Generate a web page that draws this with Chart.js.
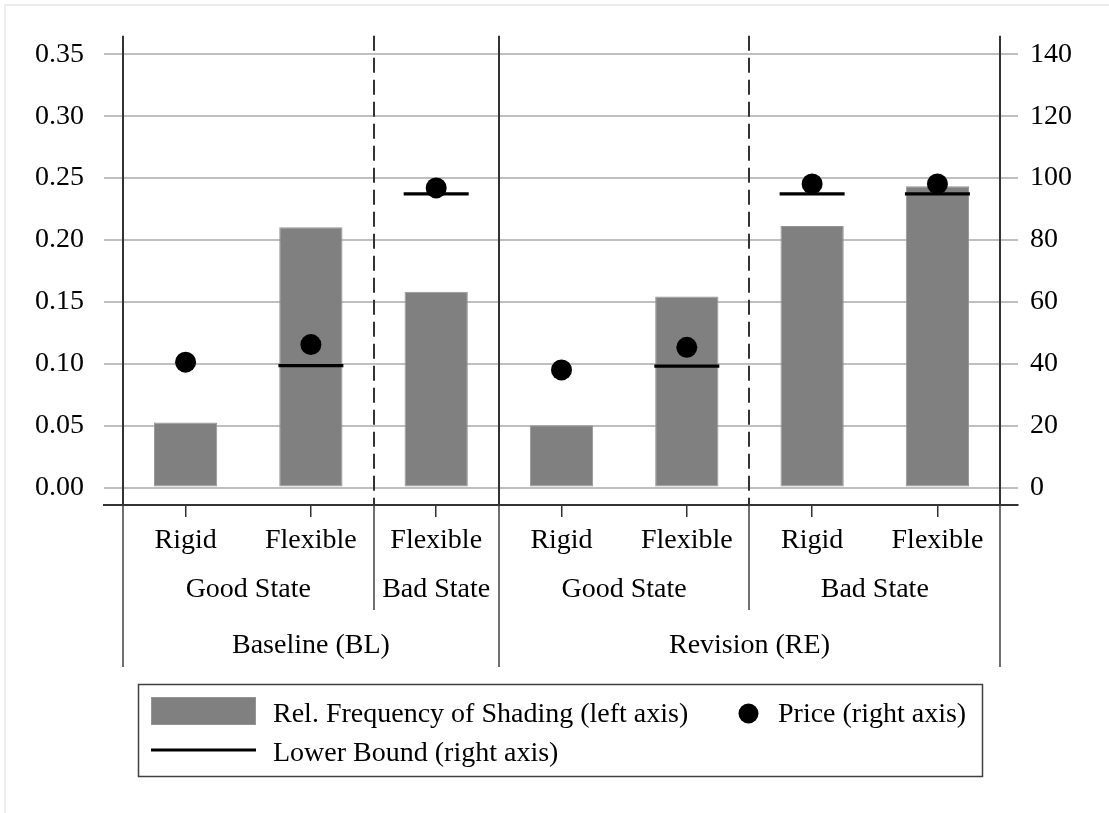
<!DOCTYPE html>
<html>
<head>
<meta charset="utf-8">
<script src="https://cdn.jsdelivr.net/npm/chart.js@4.4.1/dist/chart.umd.min.js"></script>
<style>
  html, body { margin: 0; padding: 0; background: #fff; }
  #wrap { width: 1109px; height: 813px; }
</style>
</head>
<body>
<div id="wrap"><canvas id="myChart" width="1109" height="813"></canvas></div>
<script>
const conditions = ['Rigid', 'Flexible', 'Flexible', 'Rigid', 'Flexible', 'Rigid', 'Flexible'];
const states = ['Good State', 'Bad State', 'Good State', 'Bad State'];
const stateSizes = [2, 1, 2, 2];
const treatments = ['Baseline (BL)', 'Revision (RE)'];
const treatmentSizes = [3, 4];

const shading = [0.0525, 0.2102, 0.1581, 0.0503, 0.1543, 0.2112, 0.2434];
const price = [40.5, 46.2, 96.8, 38.0, 45.3, 98.1, 98.1];
const lowerBound = [null, 39.4, 94.9, null, 39.2, 94.9, 94.9];

const leftTicks = [0, 0.05, 0.10, 0.15, 0.20, 0.25, 0.30, 0.35];
const rightTicks = [0, 20, 40, 60, 80, 100, 120, 140];

const FONT = '28px "Liberation Serif", "Times New Roman", serif';
const LINE = '#333333';

// boundaries between groups, in category units
function edges(sizes) {
  const out = [-0.5];
  let pos = -0.5;
  sizes.forEach(s => { pos += s; out.push(pos); });
  return out;
}
function centers(sizes) {
  const out = [];
  let start = 0;
  sizes.forEach(s => { out.push(start + (s - 1) / 2); start += s; });
  return out;
}
const treatmentEdges = edges(treatmentSizes);
const stateEdges = edges(stateSizes).filter(e => !treatmentEdges.includes(e));

const frame = {
  id: 'frame',
  beforeDraw(chart) {
    const ctx = chart.ctx;
    ctx.save();
    ctx.fillStyle = '#ececec';
    ctx.fillRect(4, 4, 2, chart.height);
    ctx.fillRect(4, 4, chart.width, 2);
    ctx.restore();
  }
};

const groupLines = {
  id: 'groupLines',
  beforeDatasetsDraw(chart) {
    const {ctx, chartArea: area, scales: {x}} = chart;
    ctx.save();
    ctx.strokeStyle = LINE;
    ctx.lineWidth = 2;
    treatmentEdges.forEach(e => {
      const px = Math.round(x.getPixelForValue(e));
      ctx.beginPath();
      ctx.moveTo(px, area.top);
      ctx.lineTo(px, area.bottom);
      ctx.stroke();
    });
    ctx.setLineDash([15, 7]);
    stateEdges.forEach(e => {
      const px = Math.round(x.getPixelForValue(e));
      ctx.beginPath();
      ctx.moveTo(px, area.top);
      ctx.lineTo(px, area.bottom);
      ctx.stroke();
    });
    ctx.restore();
  },
  afterDraw(chart) {
    const {ctx, chartArea: area, scales: {x}} = chart;
    const b = area.bottom;
    ctx.save();
    ctx.strokeStyle = LINE;
    ctx.lineWidth = 1.4;
    treatmentEdges.forEach(e => {
      const px = Math.round(x.getPixelForValue(e));
      ctx.beginPath();
      ctx.moveTo(px, b);
      ctx.lineTo(px, b + 162);
      ctx.stroke();
    });
    stateEdges.forEach(e => {
      const px = Math.round(x.getPixelForValue(e));
      ctx.beginPath();
      ctx.moveTo(px, b);
      ctx.lineTo(px, b + 105);
      ctx.stroke();
    });

    ctx.fillStyle = '#000';
    ctx.font = FONT;
    ctx.textAlign = 'center';
    ctx.textBaseline = 'alphabetic';
    conditions.forEach((c, i) => ctx.fillText(c, x.getPixelForValue(i), b + 43));
    centers(stateSizes).forEach((c, i) => ctx.fillText(states[i], x.getPixelForValue(c), b + 92));
    centers(treatmentSizes).forEach((c, i) => ctx.fillText(treatments[i], x.getPixelForValue(c), b + 148));
    ctx.restore();
  }
};

const boxLegend = {
  id: 'boxLegend',
  afterDraw(chart) {
    const ctx = chart.ctx;
    const [bars, dots, bounds] = chart.data.datasets;
    ctx.save();
    ctx.strokeStyle = '#404040';
    ctx.lineWidth = 1.5;
    ctx.strokeRect(138.5, 684.5, 844, 92);

    ctx.fillStyle = bars.backgroundColor;
    ctx.fillRect(151, 697, 105, 28);
    ctx.strokeStyle = bars.borderColor;
    ctx.lineWidth = 1;
    ctx.strokeRect(151.5, 697.5, 104, 27);

    ctx.strokeStyle = bounds.borderColor;
    ctx.lineWidth = 3;
    ctx.beginPath();
    ctx.moveTo(151, 750);
    ctx.lineTo(256, 750);
    ctx.stroke();

    ctx.fillStyle = dots.backgroundColor;
    ctx.beginPath();
    ctx.arc(748.5, 713.5, 10, 0, Math.PI * 2);
    ctx.fill();

    ctx.fillStyle = '#000';
    ctx.font = FONT;
    ctx.textAlign = 'left';
    ctx.textBaseline = 'alphabetic';
    ctx.fillText(bars.label, 273, 722);
    ctx.fillText(dots.label, 778, 722);
    ctx.fillText(bounds.label, 273, 761);
    ctx.restore();
  }
};

const ctx = document.getElementById('myChart');

new Chart(ctx, {
  data: {
    datasets: [
      {
        type: 'bar',
        label: 'Rel. Frequency of Shading (left axis)',
        data: shading.map((v, i) => ({ x: i, y: v })),
        backgroundColor: '#808080',
        borderColor: '#959595',
        borderWidth: 1,
        borderSkipped: false,
        categoryPercentage: 1,
        barPercentage: 0.505,
        xAxisID: 'x',
        yAxisID: 'y',
        order: 3
      },
      {
        type: 'scatter',
        label: 'Price (right axis)',
        data: price.map((v, i) => ({ x: i, y: v })),
        pointStyle: 'circle',
        pointRadius: 10.5,
        backgroundColor: '#000000',
        borderColor: '#000000',
        borderWidth: 0,
        xAxisID: 'x',
        yAxisID: 'y1',
        order: 1
      },
      {
        type: 'scatter',
        label: 'Lower Bound (right axis)',
        data: lowerBound.map((v, i) => ({ x: i, y: v })).filter(p => p.y !== null),
        pointStyle: 'line',
        pointRadius: 32.5,
        borderColor: '#000000',
        backgroundColor: '#000000',
        borderWidth: 3.3,
        xAxisID: 'x',
        yAxisID: 'y1',
        order: 2
      }
    ]
  },
  options: {
    responsive: false,
    animation: false,
    devicePixelRatio: 1,
    events: [],
    layout: {
      padding: { top: 34, left: 0, right: 0, bottom: 0 }
    },
    scales: {
      x: {
        type: 'linear',
        position: 'bottom',
        offset: false,
        min: -0.651,
        max: 6.643,
        afterBuildTicks: (scale) => {
          scale.ticks = conditions.map((c, i) => ({ value: i }));
        },
        afterFit: (scale) => {
          scale.height = 308;
          scale.paddingLeft = 0;
          scale.paddingRight = 0;
        },
        ticks: { display: false },
        grid: {
          display: true,
          offset: false,
          drawOnChartArea: false,
          drawTicks: true,
          tickLength: 12,
          color: LINE,
          lineWidth: 1.5
        },
        border: { display: true, color: LINE, width: 2 }
      },
      y: {
        type: 'linear',
        position: 'left',
        min: -0.0141,
        max: 0.3649,
        afterBuildTicks: (scale) => {
          scale.ticks = leftTicks.map(v => ({ value: v }));
        },
        afterFit: (scale) => {
          scale.width = 104;
          scale.paddingTop = 0;
          scale.paddingBottom = 0;
        },
        ticks: {
          color: '#000',
          font: { family: '"Liberation Serif", "Times New Roman", serif', size: 28 },
          padding: 20,
          callback: (v) => Number(v).toFixed(2)
        },
        grid: { color: '#bfbfbf', lineWidth: 2, drawTicks: false },
        border: { display: false }
      },
      y1: {
        type: 'linear',
        position: 'right',
        min: -5.64,
        max: 145.96,
        afterBuildTicks: (scale) => {
          scale.ticks = rightTicks.map(v => ({ value: v }));
        },
        afterFit: (scale) => {
          scale.width = 91;
          scale.paddingTop = 0;
          scale.paddingBottom = 0;
        },
        ticks: {
          color: '#000',
          font: { family: '"Liberation Serif", "Times New Roman", serif', size: 28 },
          padding: 12,
          callback: (v) => String(v)
        },
        grid: { display: false, drawTicks: false },
        border: { display: false }
      }
    },
    plugins: {
      legend: { display: false },
      tooltip: { enabled: false }
    }
  },
  plugins: [frame, groupLines, boxLegend]
});
</script>
</body>
</html>
